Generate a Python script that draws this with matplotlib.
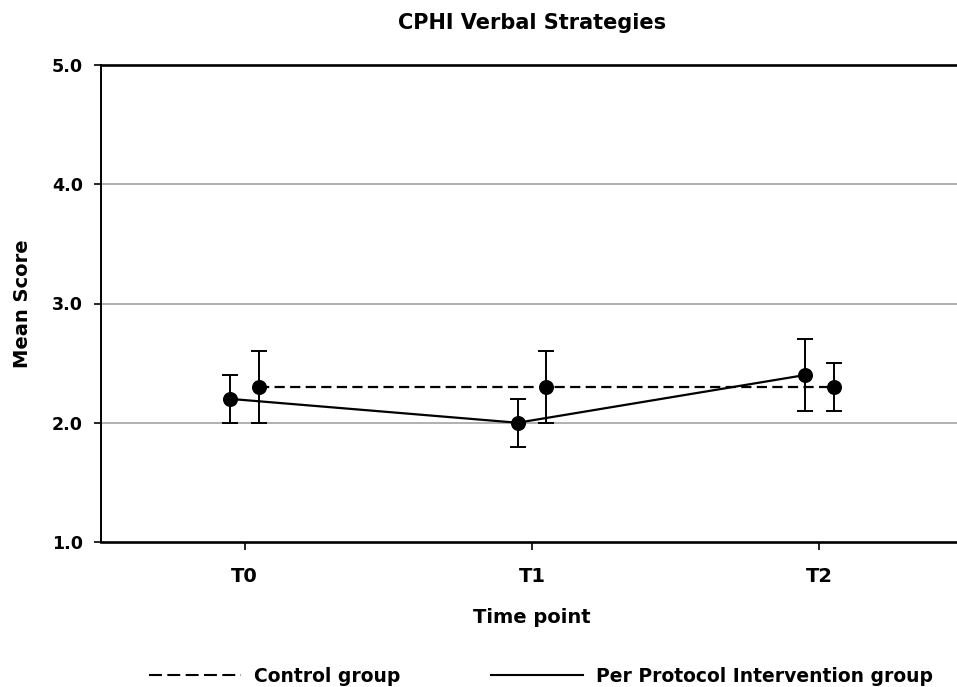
import matplotlib
matplotlib.use("Agg")
import matplotlib.pyplot as plt
from matplotlib.lines import Line2D
import numpy as np

plt.rcParams['font.family'] = ['DejaVu Sans']
plt.rcParams['font.weight'] = 'bold'

time_points = ["T0", "T1", "T2"]
control_mean = [2.3, 2.3, 2.3]
control_low = [2.0, 2.0, 2.1]
control_high = [2.6, 2.6, 2.5]
interv_mean = [2.2, 2.0, 2.4]
interv_low = [2.0, 1.8, 2.1]
interv_high = [2.4, 2.2, 2.7]
y_ticks = [1.0, 2.0, 3.0, 4.0, 5.0]
grid_levels = [2.0, 3.0, 4.0]

fig = plt.figure(figsize=(9.57, 6.87), dpi=100)
ax = fig.add_axes([101/957, 1-542/687, 862/957, (542-65)/687])

x = np.arange(len(time_points))
off = 0.05
cm = np.array(control_mean); im = np.array(interv_mean)
c_err = [cm - np.array(control_low), np.array(control_high) - cm]
i_err = [im - np.array(interv_low), np.array(interv_high) - im]

for yv in grid_levels:
    ax.axhline(yv, color='#a3a3a3', lw=1.2, zorder=0)

ax.errorbar(x + off, cm, yerr=c_err, fmt='o', color='black', ls=(0, (4.6, 2.4)),
            lw=1.6, ms=9.8, capsize=5.6, capthick=1.4, elinewidth=1.4, zorder=3)
ax.errorbar(x - off, im, yerr=i_err, fmt='o', color='black', ls='-',
            lw=1.6, ms=9.8, capsize=5.6, capthick=1.4, elinewidth=1.4, zorder=3)

ax.set_xlim(-0.5, 2.5)
ax.set_ylim(1.0, 5.0)
ax.set_yticks(y_ticks)
ax.set_yticklabels([f"{v:.1f}" for v in y_ticks])
ax.set_xticks(x)
ax.set_xticklabels(time_points)
ax.tick_params(axis='y', direction='out', length=5, width=1.2, labelsize=12.6, pad=8)
ax.tick_params(axis='x', direction='out', length=6, width=1.2, labelsize=14, pad=12)
ax.spines['right'].set_visible(False)
ax.spines['top'].set_linewidth(1.9)
ax.spines['bottom'].set_linewidth(1.9)
ax.spines['left'].set_linewidth(1.4)

ax.set_title('CPHI Verbal Strategies', fontsize=15, fontweight='bold', pad=26)
ax.set_xlabel('Time point', fontsize=14, fontweight='bold', labelpad=16)
ax.set_ylabel('Mean Score', fontsize=14, fontweight='bold', labelpad=14)

h1 = Line2D([], [], color='black', ls=(0, (6.2, 2.6)), lw=1.5)
h2 = Line2D([], [], color='black', ls='-', lw=1.5)
fig.legend([h1, h2], ['Control group', 'Per Protocol Intervention group'],
           loc='center', bbox_to_anchor=(541/957, 1-676/687), ncol=2, frameon=False,
           fontsize=13.5, handlelength=4.9, columnspacing=4.8, handletextpad=0.7,
           borderpad=0, borderaxespad=0)

fig.savefig('out.png', dpi=100)
